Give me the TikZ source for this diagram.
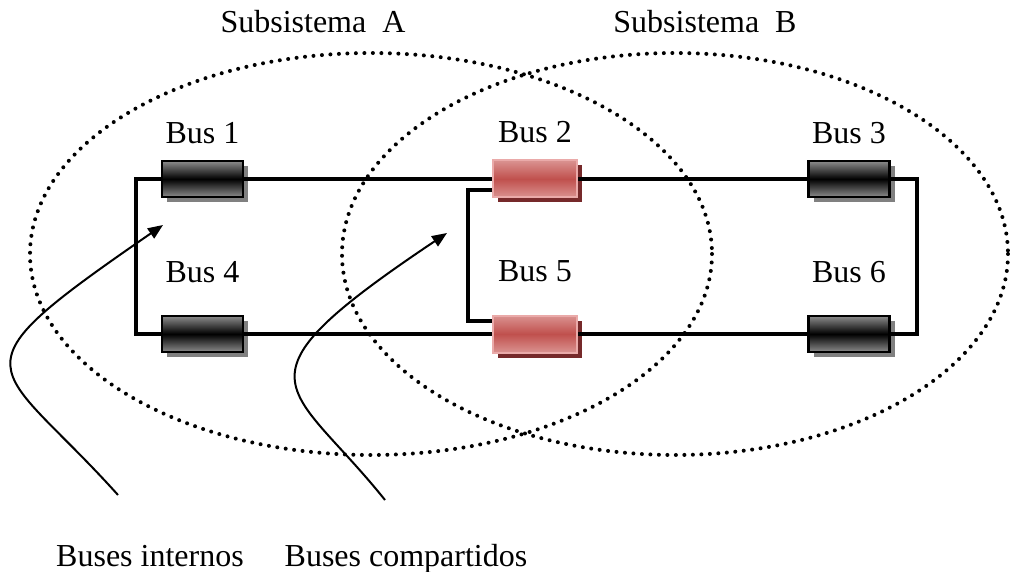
\documentclass[tikz,border=0pt]{standalone}
\usepackage{fontspec}
\setmainfont{Liberation Serif}
\usetikzlibrary{positioning,shadows,arrows.meta}
\definecolor{busrot}{HTML}{C0504D}
\definecolor{rothell}{HTML}{DA9290}
\definecolor{rosa}{HTML}{EAAAA9}
\definecolor{dunkelrot}{HTML}{76292A}
\begin{document}
\begin{tikzpicture}[x=1pt, y=-1pt]
  \useasboundingbox (0,0) rectangle (1010,572);

  \tikzstyle{txt}=[inner sep=0pt, font=\fontsize{32}{38}\selectfont]
  \tikzstyle{punkte}=[dash pattern=on 0pt off 8.5pt, line cap=round, line width=4pt]
  \tikzstyle{leitung}=[line width=3.5pt]
  \tikzstyle{pfeil}=[line width=2pt, -{Triangle[length=15pt, width=12pt]}]
  \tikzstyle{bus}=[draw=black, line width=2.5pt, minimum width=81pt, minimum height=36pt, inner sep=0pt,
    top color=gray!90, bottom color=gray!90, middle color=black,
    drop shadow={shadow xshift=5pt, shadow yshift=-5pt, fill=gray, opacity=1}]
  \tikzstyle{shared}=[bus, draw=rosa, line width=2pt, minimum width=84pt, minimum height=37pt,
    top color=rothell, bottom color=rothell, middle color=busrot,
    drop shadow={shadow xshift=5pt, shadow yshift=-5pt, fill=dunkelrot, opacity=1}]

  % Subsistemas
  \draw[punkte] (371,254) ellipse (341 and 201);
  \draw[punkte] (675,254) ellipse (333 and 201);
  \node[txt, anchor=base] (ta) at (313,33) {Subsistema\ \ A};
  \node[txt, anchor=base] (tb) at (705,33) {Subsistema\ \ B};

  % Buses
  \node[bus] (b1) at (202.5,179) {};
  \node[shared] (b2) at (535,179) {};
  \node[bus] (b3) at (849,179) {};
  \node[bus] (b4) at (202.5,334) {};
  \node[shared] (b5) at (535,334) {};
  \node[bus] (b6) at (849,334) {};

  \node[txt, above=16pt of b1] (l1) {Bus 1};
  \node[txt, above=16pt of b2] (l2) {Bus 2};
  \node[txt, above=16pt of b3] (l3) {Bus 3};
  \node[txt, above=32pt of b4] (l4) {Bus 4};
  \node[txt, above=32pt of b5] (l5) {Bus 5};
  \node[txt, above=32pt of b6] (l6) {Bus 6};

  % Leitungen
  \draw[leitung] (b1.west) -- ++(-25,0) |- (b4.west);
  \draw[leitung] (b1.east) -- (b2.west);
  \draw[leitung] (b2.east) -- (b3.west);
  \draw[leitung] (b3.east) -- ++(26,0) |- (b6.east);
  \draw[leitung] (b4.east) -- (b5.west);
  \draw[leitung] (b5.east) -- (b6.west);
  \draw[leitung] ([yshift=-11pt]b2.west) -- ++(-24,0) |- ([yshift=13pt]b5.west);

  % Pfeile
  \coordinate (s1) at (118,495);
  \coordinate (z1) at (163,225);
  \coordinate (s2) at (385,500);
  \coordinate (z2) at (447,233);
  \draw[pfeil] (s1) .. controls (-6,357) and (-56,376) .. (z1);
  \draw[pfeil] (s2) .. controls (289.5,380.6) and (223,383) .. (z2);

  \node[txt, anchor=base] (ti) at (150,566) {Buses internos};
  \node[txt, anchor=base] (tc) at (406,566) {Buses compartidos};
\end{tikzpicture}
\end{document}
